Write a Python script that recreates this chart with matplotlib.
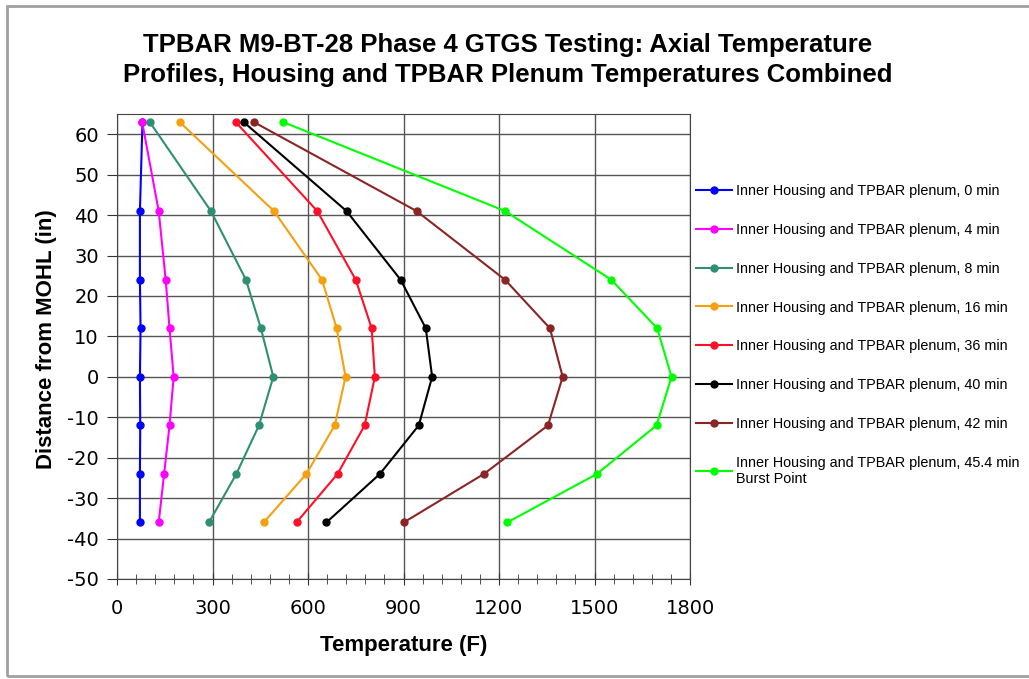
import matplotlib
matplotlib.use("Agg")
import matplotlib.pyplot as plt
from matplotlib.patches import Rectangle
from matplotlib.ticker import MultipleLocator

plt.rcParams["axes.unicode_minus"] = False

# axial positions (in) shared by all profiles
distance = [63, 41, 24, 12, 0, -12, -24, -36]

# temperatures (F)
temp_0 = [80, 72, 72, 74, 72, 73, 72, 72]
temp_4 = [79, 131, 153, 165, 178, 165, 148, 131]
temp_8 = [103, 295, 405, 452, 491, 446, 375, 289]
temp_16 = [197, 493, 644, 690, 718, 684, 595, 461]
temp_36 = [373, 629, 750, 800, 810, 778, 693, 564]
temp_40 = [398, 721, 891, 970, 990, 948, 826, 658]
temp_42 = [430, 941, 1219, 1360, 1400, 1354, 1153, 901]
temp_45 = [522, 1219, 1553, 1697, 1742, 1695, 1508, 1226]

labels = [
    "Inner Housing and TPBAR plenum, 0 min",
    "Inner Housing and TPBAR plenum, 4 min",
    "Inner Housing and TPBAR plenum, 8 min",
    "Inner Housing and TPBAR plenum, 16 min",
    "Inner Housing and TPBAR plenum, 36 min",
    "Inner Housing and TPBAR plenum, 40 min",
    "Inner Housing and TPBAR plenum, 42 min",
    "Inner Housing and TPBAR plenum, 45.4 min\nBurst Point",
]
series = [temp_0, temp_4, temp_8, temp_16, temp_36, temp_40, temp_42, temp_45]
colors = ["#0000ff", "#ff00ff", "#2f8f72", "#f5a010",
          "#ff1028", "#000000", "#8b2525", "#00ff00"]

fig = plt.figure(figsize=(10.29, 6.79), dpi=100)
ax = fig.add_axes([117 / 1029, 1 - 579 / 679, 573 / 1029, 465 / 679])

for temps, lab, col in zip(series, labels, colors):
    ax.plot(temps, distance, color=col, lw=1.5, marker="o", ms=5, label=lab)

ax.set_xlim(0, 1800)
ax.set_ylim(-50, 65)
ax.xaxis.set_major_locator(MultipleLocator(300))
ax.xaxis.set_minor_locator(MultipleLocator(60))
ax.yaxis.set_major_locator(MultipleLocator(10))
ax.grid(True, which="major", color="#555555", lw=1)
ax.set_axisbelow(True)

ax.tick_params(axis="x", which="major", direction="inout", length=9,
               labelsize=14, pad=10, color="#333333")
ax.tick_params(axis="x", which="minor", direction="inout", length=7, color="#333333")
ax.tick_params(axis="y", which="major", direction="out", length=7,
               labelsize=14, pad=6, color="#333333")
for tl in ax.get_xticklabels() + ax.get_yticklabels():
    tl.set_family("DejaVu Sans")
for sp in ax.spines.values():
    sp.set_color("#444444")

ax.set_xlabel("Temperature (F)", fontsize=16, fontweight="bold",
              family="Liberation Sans")
ax.xaxis.label.set_va("center")
ax.xaxis.set_label_coords((404 - 117) / 573, -(646 - 579) / 465)
ax.set_ylabel("Distance from MOHL (in)", fontsize=16, fontweight="bold",
              family="Liberation Sans")
ax.yaxis.label.set_va("center")
ax.yaxis.set_label_coords(-(117 - 47) / 573, (579 - 339) / 465)

fig.text(508 / 1029, 1 - 60 / 679,
         "TPBAR M9-BT-28 Phase 4 GTGS Testing: Axial Temperature\n"
         "Profiles, Housing and TPBAR Plenum Temperatures Combined",
         ha="center", va="center", fontsize=18.5, fontweight="bold",
         family="Liberation Sans", linespacing=1.3)

ax.legend(loc="upper left", bbox_to_anchor=(696 / 1029, 1 - 184 / 679),
          bbox_transform=fig.transFigure, frameon=False,
          prop={"family": "Liberation Sans", "size": 10.4},
          handlelength=2.5, handletextpad=0.3, labelspacing=1.72,
          borderaxespad=0, borderpad=0)

# outer frame of the chart area
fig.patches.append(Rectangle((7 / 1029, 3 / 679), 1.1, 1 - 9 / 679,
                             transform=fig.transFigure, fill=False,
                             edgecolor="#a0a0a0", lw=2))

fig.savefig("out.png", dpi=100)
